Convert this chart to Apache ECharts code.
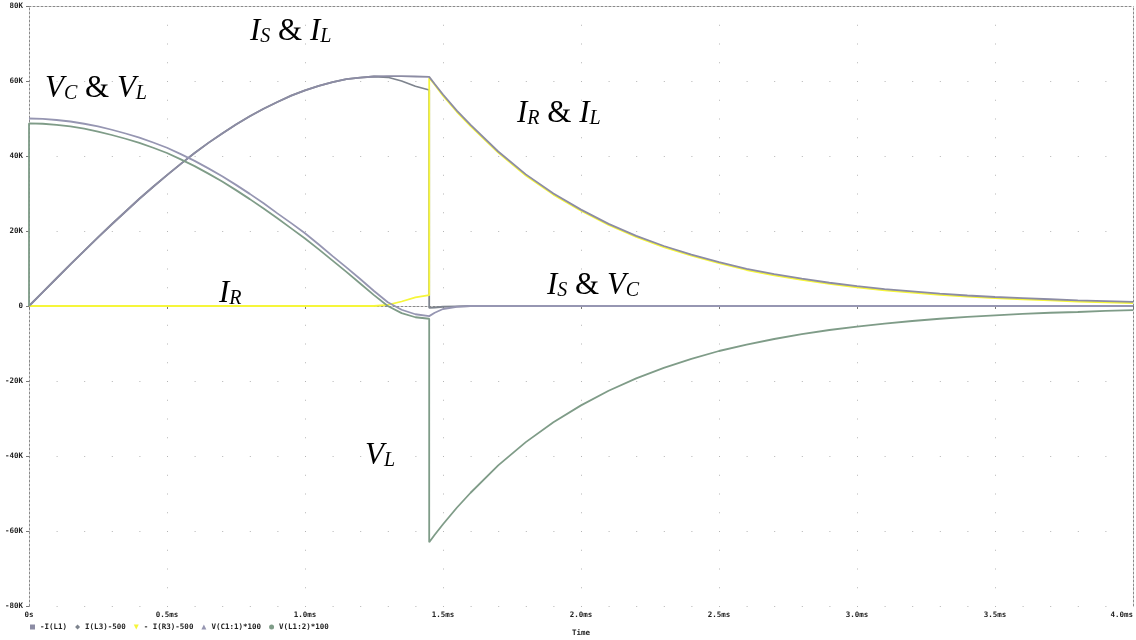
<!DOCTYPE html>
<html>
<head>
<meta charset="utf-8">
<title>RLC switching transient</title>
<script src="https://cdn.jsdelivr.net/npm/echarts@6/dist/echarts.min.js"></script>
<style>
  html, body { margin: 0; padding: 0; background: #fff; }
  #chart { width: 1136px; height: 640px; }
</style>
</head>
<body>
<div id="chart"></div>
<script>
// time in ms, every trace in thousands (K)
// 0 and 1.45 appear twice: those are the vertical jumps
const times = [0, 0, 0.05, 0.1, 0.15, 0.2, 0.25, 0.3, 0.35, 0.4, 0.45, 0.5, 0.55, 0.6, 0.65, 0.7, 0.75, 0.8,
  0.85, 0.9, 0.95, 1.0, 1.05, 1.1, 1.15, 1.2, 1.25, 1.3, 1.35, 1.4, 1.45, 1.45,
  1.47, 1.5, 1.55, 1.6, 1.7, 1.8, 1.9, 2.0, 2.1, 2.2, 2.3, 2.4, 2.5, 2.6, 2.7, 2.8, 2.9, 3.0,
  3.1, 3.2, 3.3, 3.4, 3.5, 3.6, 3.7, 3.8, 3.9, 4.0]

// -I(L1)  -> I_L
const iL = [0, 0, 3.7, 7.4, 11.1, 14.7, 18.3, 21.8, 25.2, 28.6, 31.8, 34.9, 37.9, 40.8, 43.5, 46.0, 48.4, 50.6,
  52.6, 54.4, 56.1, 57.5, 58.7, 59.7, 60.5, 60.9, 61.2, 61.3, 61.3, 61.2, 61.1, 61.1,
  59.2, 56.4, 52.1, 48.3, 41.2, 35.1, 30.0, 25.7, 21.9, 18.7, 16.0, 13.7, 11.7, 9.9, 8.5, 7.3, 6.2, 5.3,
  4.5, 3.9, 3.3, 2.8, 2.4, 2.1, 1.8, 1.5, 1.3, 1.1]
// I(L3)-500  -> I_S
const iS = [0, 0, 3.7, 7.4, 11.1, 14.7, 18.3, 21.8, 25.2, 28.6, 31.8, 34.9, 37.9, 40.8, 43.5, 46.0, 48.4, 50.6,
  52.6, 54.4, 56.1, 57.5, 58.7, 59.7, 60.5, 60.9, 61.2, 61.0, 60.0, 58.6, 57.6, -0.5,
  -0.4, -0.2, -0.1, 0, 0, 0, 0, 0, 0, 0, 0, 0, 0, 0, 0, 0, 0, 0,
  0, 0, 0, 0, 0, 0, 0, 0, 0, 0]
// - I(R3)-500  -> I_R
const iR = [0, 0, 0, 0, 0, 0, 0, 0, 0, 0, 0, 0, 0, 0, 0, 0, 0, 0,
  0, 0, 0, 0, 0, 0, 0, 0, 0, 0.3, 1.2, 2.3, 2.9, 60.9,
  59.0, 56.1, 51.8, 48.0, 40.9, 34.8, 29.7, 25.4, 21.6, 18.4, 15.7, 13.4, 11.4, 9.6, 8.2, 7.0, 5.9, 5.0,
  4.2, 3.6, 3.0, 2.5, 2.1, 1.8, 1.5, 1.2, 1.0, 0.8]
// V(C1:1)*100  -> V_C
const vC = [50.0, 50.0, 49.9, 49.6, 49.2, 48.6, 47.9, 47.0, 46.0, 44.9, 43.6, 42.2, 40.5, 38.7, 36.7, 34.6, 32.3, 29.9,
  27.4, 24.7, 22.1, 19.4, 16.4, 13.3, 10.3, 7.2, 4.0, 1.0, -1.0, -2.2, -2.7, -2.7,
  -1.8, -0.8, -0.2, 0, 0, 0, 0, 0, 0, 0, 0, 0, 0, 0, 0, 0, 0, 0,
  0, 0, 0, 0, 0, 0, 0, 0, 0, 0]
// V(L1:2)*100  -> V_L
const vL = [0, 48.7, 48.6, 48.3, 47.9, 47.3, 46.5, 45.6, 44.6, 43.5, 42.2, 40.8, 39.1, 37.3, 35.3, 33.2, 30.9, 28.5,
  26.0, 23.4, 20.7, 18.0, 15.1, 12.1, 9.1, 6.0, 2.9, 0.0, -1.9, -3.0, -3.4, -63.0,
  -61.0, -58.2, -53.8, -49.8, -42.5, -36.3, -31.0, -26.5, -22.6, -19.3, -16.5, -14.1, -12.0, -10.3, -8.8, -7.5, -6.4, -5.5,
  -4.7, -4.0, -3.4, -2.9, -2.5, -2.1, -1.8, -1.6, -1.3, -1.1]

const traceNames = ['-I(L1)', 'I(L3)-500', '- I(R3)-500', 'V(C1:1)*100', 'V(L1:2)*100']
const traceColors = ['#8c8ca4', '#7e848e', '#f6f63a', '#9696b2', '#7f9c88']
const traceIcons = ['rect', 'diamond', 'path://M0,0L10,0L5,10Z', 'triangle', 'circle']

const tickFont = { fontFamily: 'DejaVu Sans Mono', fontWeight: 'bold', fontSize: 7.5, color: '#222' }
const dotted = { color: '#8a8a8a', width: 1, type: [2, 2] }

const chart = echarts.init(document.getElementById('chart'))

function trace(idx, values, z) {
  return {
    name: traceNames[idx],
    type: 'line',
    data: times.map((t, i) => [t, values[i]]),
    showSymbol: false,
    lineStyle: { color: traceColors[idx], width: 1.8 },
    itemStyle: { color: traceColors[idx] },
    z: z,
    emphasis: { disabled: true }
  }
}

// italic labels with subscripts
const rich = {
  i: { fontFamily: 'Liberation Serif', fontStyle: 'italic', fontSize: 31, lineHeight: 31 },
  s: { fontFamily: 'Liberation Serif', fontStyle: 'italic', fontSize: 20, lineHeight: 18, verticalAlign: 'bottom' },
  a: { fontFamily: 'Liberation Serif', fontSize: 31, lineHeight: 31 }
}
function note(x, y, text) {
  return {
    type: 'text', x: x, y: y, z: 100,
    style: { text: text, rich: rich, fill: '#000', align: 'left', verticalAlign: 'top' }
  }
}

const axisCommon = { type: 'value', min: 0, max: 4, interval: 0.5 }

chart.setOption({
  animation: false,
  backgroundColor: '#fff',
  grid: { left: 29, right: 3, top: 6, bottom: 34, containLabel: false, outerBoundsMode: 'none' },
  legend: {
    left: 25, top: 618,
    itemWidth: 5, itemHeight: 5, itemGap: 8,
    textStyle: { fontFamily: 'DejaVu Sans Mono', fontWeight: 'bold', fontSize: 7.5, color: '#222' },
    data: traceNames.map((n, i) => ({ name: n, icon: traceIcons[i] }))
  },
  xAxis: [
    {
      ...axisCommon,
      position: 'bottom',
      name: 'Time', nameLocation: 'middle', nameGap: 23,
      nameTextStyle: tickFont,
      axisLine: { show: true, lineStyle: dotted },
      axisTick: { show: true, length: 3, lineStyle: { color: '#777' } },
      axisLabel: { ...tickFont, margin: 5, alignMaxLabel: 'right', formatter: v => v === 0 ? '0s' : v.toFixed(1) + 'ms' },
      // dots every 5K along each 0.5ms line
      splitLine: { show: true, lineStyle: { color: '#b4b4b4', width: 1, type: [1, 17.75] } }
    },
    {
      ...axisCommon,
      position: 'top',
      axisLine: { show: true, onZero: false, lineStyle: dotted },
      axisTick: { show: false }, axisLabel: { show: false }, splitLine: { show: false }
    }
  ],
  yAxis: [
    {
      type: 'value', min: -80, max: 80, interval: 20,
      axisLine: { show: true, onZero: false, lineStyle: dotted },
      axisTick: { show: true, length: 3, lineStyle: { color: '#777' } },
      axisLabel: { ...tickFont, margin: 6, formatter: v => v === 0 ? '0' : v + 'K' },
      // dots every 0.1ms along each 20K line
      splitLine: { show: true, lineStyle: { color: '#b4b4b4', width: 1, type: [1, 26.6] } }
    },
    {
      type: 'value', min: -80, max: 80, interval: 20, position: 'right',
      axisLine: { show: true, onZero: false, lineStyle: dotted },
      axisTick: { show: false }, axisLabel: { show: false }, splitLine: { show: false }
    }
  ],
  series: [
    trace(0, iL, 4),
    trace(1, iS, 2),
    trace(2, iR, 3),
    trace(3, vC, 5),
    trace(4, vL, 6)
  ],
  graphic: [
    note(45, 73, '{i|V}{s|C}{a| & }{i|V}{s|L}'),
    note(250, 16, '{i|I}{s|S}{a| & }{i|I}{s|L}'),
    note(517, 98, '{i|I}{s|R}{a| & }{i|I}{s|L}'),
    note(219, 278, '{i|I}{s|R}'),
    note(547, 270, '{i|I}{s|S}{a| & }{i|V}{s|C}'),
    note(365, 440, '{i|V}{s|L}')
  ]
})
</script>
</body>
</html>
